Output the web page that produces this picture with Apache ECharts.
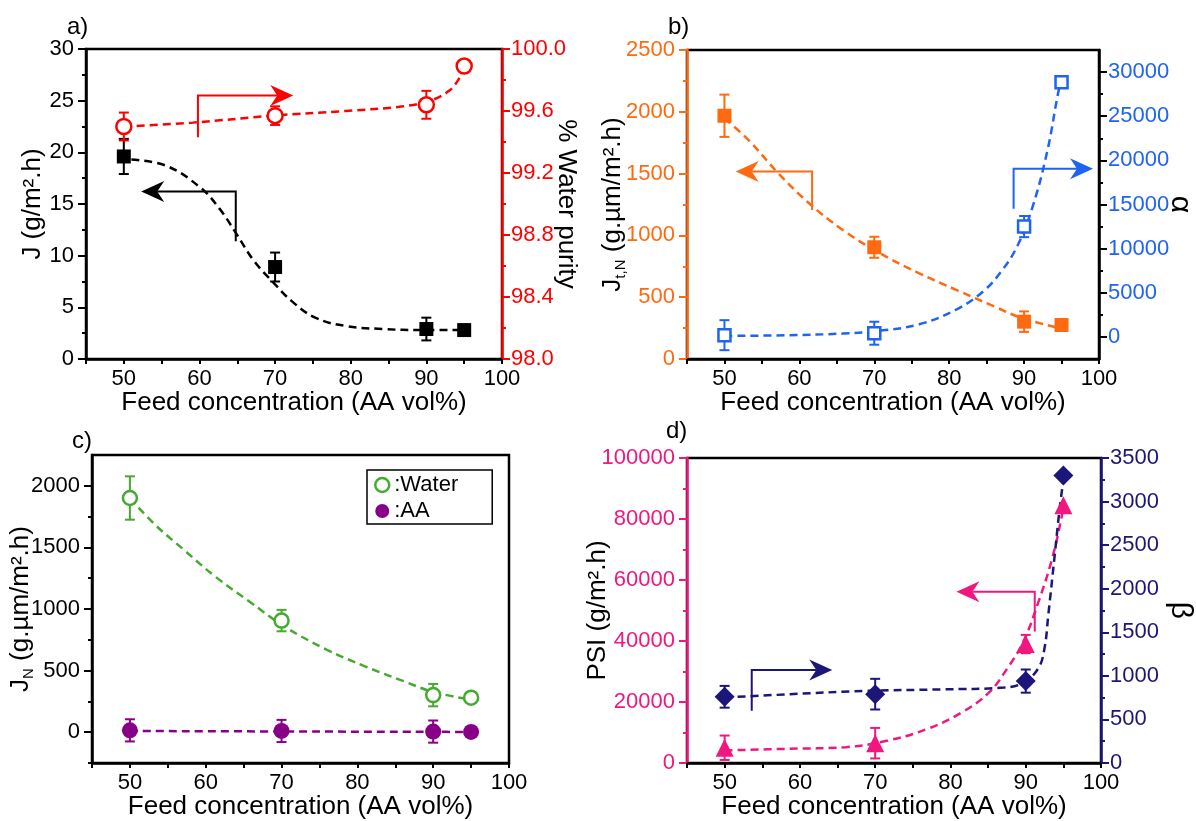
<!DOCTYPE html>
<html>
<head>
<meta charset="utf-8">
<script src="https://cdn.jsdelivr.net/npm/echarts@6/dist/echarts.min.js"></script>
<style>
  html, body { margin: 0; padding: 0; background: #fff; }
  #chart { width: 1196px; height: 821px; }
</style>
</head>
<body>
<div id="chart"></div>
<script>
// Feed concentration (AA vol%) shared by every panel
const feed = [50, 70, 90, 95];

// a) total flux J and permeate water purity
const fluxJ = [19.6, 8.9, 2.9, 2.8];
const fluxJErr = [1.7, 1.4, 1.1, 0];
const purity = [99.50, 99.57, 99.64, 99.89];
const purityErr = [0.09, 0.06, 0.09, 0];
const fitJ = [[51, 19.3], [55.6, 18.7], [60.1, 16.6], [62.6, 14.6], [64.9, 12.1], [67.2, 9.5], [69.9, 7.3], [72.2, 5.6], [75.3, 4.0], [79.3, 3.2], [84.3, 2.9], [89.4, 2.8], [95, 2.8]];
const fitPurity = [[50, 99.50], [59.1, 99.525], [69.7, 99.57], [79.3, 99.60], [86.9, 99.63], [90.4, 99.665], [93, 99.73], [94.4, 99.815], [95, 99.88]];

// b) normalized total flux and separation factor alpha
const fluxTN = [1968, 904, 302, 275];
const fluxTNErr = [171, 85, 83, 0];
const alpha = [200, 420, 12500, 28850];
const alphaErr = [1700, 1300, 1200, 0];
const fitTN = [[50, 1947], [53.2, 1772], [57.2, 1502], [61.3, 1260], [65.8, 1044], [70.4, 868], [76, 693], [81, 558], [86.1, 423], [89.8, 329], [94.9, 248]];
const fitAlpha = [[50, 110], [58.2, 190], [65.8, 380], [70.4, 680], [76, 1430], [81, 3130], [84.6, 5200], [87, 7470], [89.1, 10300], [91.1, 14640], [93.1, 21050], [94.6, 27850], [95, 28850]];
const alphaTicks = [0, 5000, 10000, 15000, 20000, 25000, 30000];
const alphaMinorTicks = [2500, 7500, 12500, 17500, 22500, 27500];

// c) normalized partial fluxes
const water = [1901, 906, 301, 280];
const waterErr = [176, 87, 91, 0];
const acid = [15, 10, 5, 2];
const acidErr = [90, 90, 90, 0];
const fitWater = [[50, 1901], [53.2, 1691], [57.2, 1476], [61.3, 1261], [65.8, 1059], [70.4, 857], [76, 669], [81, 535], [86.1, 414], [90.1, 325], [94.9, 266]];
const fitAcid = [[50, 10], [70, 6], [90, 3], [95, 2]];
const partialTicks = [0, 500, 1000, 1500, 2000];
const partialMinorTicks = [-250, 250, 750, 1250, 1750];

// d) pervaporation separation index and enrichment factor beta
const psi = [5000, 6500, 39000, 84500];
const psiErr = [4000, 5000, 3000, 0];
const beta = [760, 790, 940, 3300];
const betaErr = [125, 176, 133, 0];
const fitPSI = [[50, 4120], [58.4, 4650], [66.1, 5200], [71.7, 7380], [76.9, 11150], [81.5, 16580], [85.1, 23080], [87.6, 31200], [89.7, 39880], [91.7, 52880], [93.5, 66950], [94.8, 81030], [95, 84500]];
const fitBeta = [[50, 751], [58.4, 788], [68.7, 827], [78.9, 845], [87.1, 865], [89.7, 922], [91.7, 1092], [92.5, 1320], [93, 1699], [93.8, 2344], [94.5, 2913], [95, 3250]];

const FONT = "'Liberation Sans', Arial, Helvetica, sans-serif";
const BLACK = '#000000', RED = '#ff0000', ORANGE = '#ff6a10', BLUE = '#1f63f5',
      GREEN = '#44aa30', PURPLE = '#880088', PINK = '#f0187f', NAVY = '#1c1678';

const grids = [
  { left: 86, top: 49, width: 416, height: 310 },
  { left: 687, top: 50, width: 416, height: 309 },
  { left: 92, top: 455, width: 417, height: 308 },
  { left: 687, top: 458, width: 414, height: 309 }
].map(g => Object.assign(g, { show: true, borderColor: BLACK, borderWidth: 2.5, backgroundColor: 'transparent' }));

function xAxisFor(gridIndex) {
  return {
    type: 'value', gridIndex, min: 45, max: 100, interval: 5,
    axisLine: { show: true, onZero: false, lineStyle: { color: BLACK, width: 2.5 } },
    axisTick: { show: true, length: 5, lineStyle: { color: BLACK, width: 2 } },
    axisLabel: { fontSize: 22, fontFamily: FONT, color: BLACK, margin: 9,
      formatter: v => (v % 10 === 0 ? String(v) : '') },
    splitLine: { show: false },
    name: 'Feed concentration (AA vol%)', nameLocation: 'middle', nameGap: 31, nameMoveOverlap: false,
    nameTextStyle: { fontSize: 26, fontFamily: FONT, color: BLACK }
  };
}

function yAxisFor(o) {
  const ax = {
    type: 'value', gridIndex: o.grid, position: o.pos, min: o.min, max: o.max, interval: o.interval,
    axisLine: { show: true, onZero: false, lineStyle: { color: o.lineColor, width: 2.5 } },
    axisTick: { show: true, length: 8, lineStyle: { color: o.lineColor, width: 2 } },
    minorTick: o.minor ? { show: true, splitNumber: 2, length: 4, lineStyle: { color: o.lineColor, width: 2 } } : { show: false },
    axisLabel: { fontSize: 22, fontFamily: FONT, color: o.labelColor, margin: o.pos === 'left' ? 12 : 9,
      formatter: o.formatter || (v => String(v)) },
    splitLine: { show: false }, minorSplitLine: { show: false },
    name: o.name, nameLocation: 'middle', nameGap: o.nameGap, nameMoveOverlap: false,
    nameTextStyle: Object.assign({ fontSize: 26, fontFamily: FONT, color: BLACK }, o.nameStyle || {})
  };
  if (o.ticks) {
    ax.axisTick.customValues = o.ticks;
    ax.axisLabel.customValues = o.ticks;
  }
  if (o.nameRotate !== undefined) ax.nameRotate = o.nameRotate;
  return ax;
}

// Unlabelled companion axis that only carries the short in-between ticks
function minorTickAxis(grid, pos, min, max, values, color) {
  return {
    type: 'value', gridIndex: grid, position: pos, min, max,
    axisLine: { show: false, onZero: false },
    axisTick: { show: true, length: 4, customValues: values, lineStyle: { color, width: 2 } },
    axisLabel: { show: false }, splitLine: { show: false }
  };
}

const subRich = {
  b: { fontSize: 26, fontFamily: FONT, color: BLACK, lineHeight: 30 },
  s: { fontSize: 15, fontFamily: FONT, color: BLACK, lineHeight: 15, verticalAlign: 'bottom' }
};

const xAxes = [0, 1, 2, 3].map(xAxisFor);
const yAxes = [
  yAxisFor({ grid: 0, pos: 'left', min: 0, max: 30, interval: 5, minor: true, lineColor: BLACK, labelColor: BLACK,
    name: 'J (g/m².h)', nameGap: 40 }),
  yAxisFor({ grid: 0, pos: 'right', min: 98, max: 100, interval: 0.4, minor: true, lineColor: RED, labelColor: RED,
    formatter: v => v.toFixed(1), name: '% Water purity', nameGap: 51, nameRotate: -90 }),
  yAxisFor({ grid: 1, pos: 'left', min: 0, max: 2500, interval: 500, minor: true, lineColor: ORANGE, labelColor: ORANGE,
    name: '{b|J}{s|t,N}{b| (g.µm/m².h)}', nameGap: 59, nameStyle: { rich: subRich } }),
  yAxisFor({ grid: 1, pos: 'right', min: -2500, max: 32500, ticks: alphaTicks, lineColor: BLACK, labelColor: BLUE,
    name: 'α', nameGap: 66, nameRotate: -90, nameStyle: { fontSize: 30 } }),
  yAxisFor({ grid: 2, pos: 'left', min: -250, max: 2250, ticks: partialTicks, lineColor: BLACK, labelColor: BLACK,
    name: '{b|J}{s|N}{b| (g.µm/m².h)}', nameGap: 56, nameStyle: { rich: subRich } }),
  yAxisFor({ grid: 3, pos: 'left', min: 0, max: 100000, interval: 20000, minor: true, lineColor: PINK, labelColor: PINK,
    name: 'PSI (g/m².h)', nameGap: 76 }),
  yAxisFor({ grid: 3, pos: 'right', min: 0, max: 3500, interval: 500, minor: true, lineColor: NAVY, labelColor: NAVY,
    name: 'β', nameGap: 64, nameRotate: -90, nameStyle: { fontSize: 30 } }),
  minorTickAxis(1, 'right', -2500, 32500, alphaMinorTicks, BLACK),
  minorTickAxis(2, 'left', -250, 2250, partialMinorTicks, BLACK)
];

const pairs = (xs, ys) => xs.map((x, i) => [x, ys[i]]);
const triples = (xs, ys, es) => xs.map((x, i) => [x, ys[i], es[i]]);

function errorBarRender(params, api) {
  const x = api.value(0), y = api.value(1), e = api.value(2);
  if (!e) return null;
  const top = api.coord([x, y + e]);
  const bot = api.coord([x, y - e]);
  const hw = 5;
  const style = { stroke: api.visual('color'), lineWidth: 2 };
  return {
    type: 'group',
    children: [
      { type: 'line', shape: { x1: top[0], y1: top[1], x2: bot[0], y2: bot[1] }, style },
      { type: 'line', shape: { x1: top[0] - hw, y1: top[1], x2: top[0] + hw, y2: top[1] }, style },
      { type: 'line', shape: { x1: bot[0] - hw, y1: bot[1], x2: bot[0] + hw, y2: bot[1] }, style }
    ]
  };
}

// Elbow arrow pointing at the axis a curve belongs to: vertical stem, horizontal run, swept head
function arrowRender(params, api) {
  const p0 = api.coord([api.value(0), api.value(1)]);
  const p1 = api.coord([api.value(2), api.value(3)]);
  const tip = api.coord([api.value(4), api.value(5)]);
  const color = api.visual('color');
  const dx = tip[0] - p1[0], dy = tip[1] - p1[1];
  const len = Math.hypot(dx, dy) || 1;
  const ux = dx / len, uy = dy / len, px = -uy, py = ux;
  const headLen = 23, halfW = 10.5, notch = 7;
  const back = [tip[0] - ux * headLen, tip[1] - uy * headLen];
  const inner = [tip[0] - ux * (headLen - notch), tip[1] - uy * (headLen - notch)];
  return {
    type: 'group',
    children: [
      { type: 'polyline', shape: { points: [p0, p1, inner] }, style: { stroke: color, lineWidth: 2, fill: null } },
      { type: 'polygon', shape: { points: [tip, [back[0] + px * halfW, back[1] + py * halfW], inner, [back[0] - px * halfW, back[1] - py * halfW]] },
        style: { fill: color } }
    ]
  };
}

function fitLine(data, xi, yi, color) {
  return {
    type: 'line', xAxisIndex: xi, yAxisIndex: yi, data, showSymbol: false, symbol: 'none',
    smooth: 0.4, silent: true, z: 2,
    lineStyle: { color, width: 2.5, type: [8, 5] }
  };
}

function errorBars(data, xi, yi, color) {
  return {
    type: 'custom', xAxisIndex: xi, yAxisIndex: yi, data, renderItem: errorBarRender,
    encode: { x: 0, y: 1 }, itemStyle: { color }, silent: true, z: 3
  };
}

function markers(name, data, xi, yi, color, symbol, size, hollow) {
  return {
    type: 'scatter', name, xAxisIndex: xi, yAxisIndex: yi, data, symbol, symbolSize: size, z: 4,
    itemStyle: hollow ? { color: '#ffffff', borderColor: color, borderWidth: 2.5, opacity: 1 }
                      : { color, opacity: 1 }
  };
}

function arrow(coords, xi, yi, color) {
  return {
    type: 'custom', xAxisIndex: xi, yAxisIndex: yi, renderItem: arrowRender, silent: true, z: 5,
    encode: { x: [0, 2, 4], y: [1, 3, 5] }, itemStyle: { color },
    data: [coords.flat()]
  };
}

const series = [
  // a)
  fitLine(fitJ, 0, 0, BLACK),
  fitLine(fitPurity, 0, 1, RED),
  errorBars(triples(feed, fluxJ, fluxJErr), 0, 0, BLACK),
  errorBars(triples(feed, purity, purityErr), 0, 1, RED),
  markers('J', pairs(feed, fluxJ), 0, 0, BLACK, 'rect', 14, false),
  markers('Water purity', pairs(feed, purity), 0, 1, RED, 'circle', 15, true),
  arrow([[64.8, 11.4], [64.8, 16.2], [52.3, 16.2]], 0, 0, BLACK),
  arrow([[59.8, 99.43], [59.8, 99.70], [72.4, 99.70]], 0, 1, RED),
  // b)
  fitLine(fitTN, 1, 2, ORANGE),
  fitLine(fitAlpha, 1, 3, BLUE),
  errorBars(triples(feed, fluxTN, fluxTNErr), 1, 2, ORANGE),
  errorBars(triples(feed, alpha, alphaErr), 1, 3, BLUE),
  markers('Jt,N', pairs(feed, fluxTN), 1, 2, ORANGE, 'rect', 14, false),
  markers('α', pairs(feed, alpha), 1, 3, BLUE, 'rect', 12, true),
  arrow([[61.7, 1206], [61.7, 1516], [51.5, 1516]], 1, 2, ORANGE),
  arrow([[88.6, 14525], [88.6, 19055], [99.2, 19055]], 1, 3, BLUE),
  // c)
  fitLine(fitWater, 2, 4, GREEN),
  fitLine(fitAcid, 2, 4, PURPLE),
  errorBars(triples(feed, water, waterErr), 2, 4, GREEN),
  errorBars(triples(feed, acid, acidErr), 2, 4, PURPLE),
  markers(':Water', pairs(feed, water), 2, 4, GREEN, 'circle', 14, true),
  markers(':AA', pairs(feed, acid), 2, 4, PURPLE, 'circle', 16, false),
  // d)
  fitLine(fitPSI, 3, 5, PINK),
  fitLine(fitBeta, 3, 6, NAVY),
  errorBars(triples(feed, psi, psiErr), 3, 5, PINK),
  errorBars(triples(feed, beta, betaErr), 3, 6, NAVY),
  markers('PSI', pairs(feed, psi), 3, 5, PINK, 'triangle', 18, false),
  markers('β', pairs(feed, beta), 3, 6, NAVY, 'diamond', 20, false),
  arrow([[91.2, 43130], [91.2, 56130], [80.8, 56130]], 3, 5, PINK),
  arrow([[53.6, 600], [53.6, 1066], [64.3, 1066]], 3, 6, NAVY)
];

const panelLabels = [
  { text: 'a)', left: 67, top: 15 },
  { text: 'b)', left: 668, top: 15 },
  { text: 'c)', left: 72, top: 429 },
  { text: 'd)', left: 666, top: 419 }
].map(p => ({ type: 'text', left: p.left, top: p.top, style: { text: p.text, font: '24px ' + FONT, fill: BLACK } }));

const chart = echarts.init(document.getElementById('chart'), null, { renderer: 'canvas' });
chart.setOption({
  backgroundColor: '#ffffff',
  animation: false,
  textStyle: { fontFamily: FONT },
  grid: grids,
  xAxis: xAxes,
  yAxis: yAxes,
  legend: {
    data: [
      { name: ':Water', icon: 'circle', itemStyle: { color: '#ffffff', borderColor: GREEN, borderWidth: 2.5 } },
      { name: ':AA', icon: 'circle', itemStyle: { color: PURPLE } }
    ],
    orient: 'vertical', left: 367, top: 470, itemWidth: 14, itemHeight: 14, itemGap: 2,
    padding: [3, 34, 1, 7], borderColor: BLACK, borderWidth: 1.5, selectedMode: false,
    textStyle: { fontSize: 22, fontFamily: FONT, color: BLACK, lineHeight: 24 }
  },
  graphic: panelLabels,
  series
});
</script>
</body>
</html>
